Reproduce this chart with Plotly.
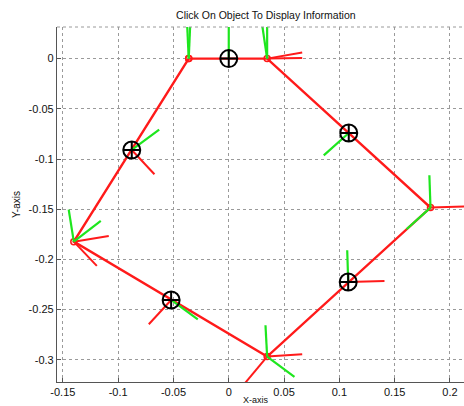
import plotly.graph_objects as go

# Polygon path vertices (closed)
path_x = [-0.0362, 0.0347, 0.1824, 0.0347, -0.1401, -0.0362]
path_y = [0.0, 0.0, -0.1484, -0.2968, -0.1823, 0.0]

# Object centres (circle-cross markers)
obj_x = [0.0, 0.1085, 0.1080, -0.0521, -0.0877]
obj_y = [0.0, -0.0741, -0.2225, -0.2404, -0.0910]

# Red frame-axis segments: start and end
red_x0 = [0.0347, 0.0347, 0.1824, 0.1080, 0.0347, 0.0347, -0.0521, -0.1401, -0.1401, -0.0877]
red_y0 = [0.0, 0.0, -0.1484, -0.2225, -0.2968, -0.2968, -0.2404, -0.1823, -0.1823, -0.0910]
red_x1 = [0.0664, 0.0664, 0.2276, 0.1408, 0.0664, 0.0070, -0.0723, -0.1085, -0.1193, -0.0672]
red_y1 = [0.0060, 0.0006, -0.1467, -0.2215, -0.2945, -0.3334, -0.2646, -0.1767, -0.2064, -0.1152]

# Green frame-axis segments: start and end
green_x0 = [-0.0362, -0.0362, 0.0, 0.0347, 0.0347, 0.1085, 0.1824, 0.1824, 0.1080, 0.0347, 0.0347, -0.0521, -0.1401, -0.1401, -0.0877]
green_y0 = [0.0, 0.0, 0.0, 0.0, 0.0, -0.0741, -0.1484, -0.1484, -0.2225, -0.2968, -0.2968, -0.2404, -0.1823, -0.1823, -0.0910]
green_x1 = [-0.0378, -0.0347, 0.0, 0.0296, 0.0347, 0.0859, 0.1814, 0.1607, 0.1071, 0.0332, 0.0594, -0.0280, -0.1447, -0.1157, -0.0629]
green_y1 = [0.038, 0.038, 0.038, 0.038, 0.038, -0.0963, -0.1162, -0.1700, -0.1909, -0.2656, -0.3169, -0.2597, -0.1504, -0.1616, -0.0707]

x_ticks = [-0.15, -0.1, -0.05, 0, 0.05, 0.1, 0.15, 0.2]
x_labels = ["-0.15", "-0.1", "-0.05", "0", "0.05", "0.1", "0.15", "0.2"]
y_ticks = [0, -0.05, -0.1, -0.15, -0.2, -0.25, -0.3]
y_labels = ["0", "-0.05", "-0.1", "-0.15", "-0.2", "-0.25", "-0.3"]


def seg_lists(x0, y0, x1, y1):
    xs, ys = [], []
    for a, b, c, d in zip(x0, y0, x1, y1):
        xs += [a, c, None]
        ys += [b, d, None]
    return xs, ys


fig = go.Figure()
fig.add_trace(go.Scatter(x=path_x, y=path_y, mode="lines+markers",
                         line=dict(color="#ff1a1a", width=2.4),
                         marker=dict(symbol="circle-open", size=6, color="#ff1a1a", line=dict(width=1.5)),
                         hoverinfo="skip"))
rx, ry = seg_lists(red_x0, red_y0, red_x1, red_y1)
fig.add_trace(go.Scatter(x=rx, y=ry, mode="lines", line=dict(color="#ff1a1a", width=2), hoverinfo="skip"))
gx, gy = seg_lists(green_x0, green_y0, green_x1, green_y1)
fig.add_trace(go.Scatter(x=gx, y=gy, mode="lines", line=dict(color="#1ee61e", width=2.2), hoverinfo="skip"))
fig.add_trace(go.Scatter(x=obj_x, y=obj_y, mode="markers",
                         marker=dict(symbol="circle-cross-open", size=17, color="black",
                                     line=dict(width=2, color="black")),
                         cliponaxis=False))

fam = "Liberation Sans, Arial, sans-serif"
font = dict(family=fam, size=11, color="#111")
fig.update_layout(
    width=464, height=406,
    margin=dict(l=56.5, r=0, t=26.7, b=24.3, autoexpand=False),
    paper_bgcolor="white", plot_bgcolor="white",
    showlegend=False,
    font=font,
    title=dict(text="Click On Object To Display Information", x=0.573, xref="container",
               xanchor="center", y=0.963, yref="container", yanchor="middle",
               font=dict(family=fam, size=10.5, color="#111")),
    xaxis=dict(range=[-0.1553, 0.2127], tickvals=x_ticks, ticktext=x_labels,
               showgrid=True, gridcolor="#9a9a9a", griddash="dot", gridwidth=1,
               zeroline=False, showline=True, linecolor="#555", linewidth=1.2,
               ticks="inside", ticklen=4, tickcolor="#555", tickfont=font, automargin=False,
               ticklabelstandoff=0),
    yaxis=dict(range=[-0.3221, 0.0315], tickvals=y_ticks, ticktext=y_labels,
               showgrid=True, gridcolor="#9a9a9a", griddash="dot", gridwidth=1,
               zeroline=False, showline=True, linecolor="#555", linewidth=1.2,
               ticks="inside", ticklen=4, tickcolor="#555", tickfont=font, automargin=False,
               title=dict(text="Y-axis", font=dict(family=fam, size=10, color="#111"),
                          standoff=6)),
    shapes=[dict(type="line", xref="paper", yref="paper", x0=0, x1=1, y0=1, y1=1,
                 line=dict(color="#9a9a9a", width=1, dash="dot"))],
    annotations=[dict(text="X-axis", x=(256 - 56.5) / 407.5, xref="paper", y=-25 / 355, yref="paper",
                      xanchor="center", yanchor="bottom", showarrow=False,
                      font=dict(family=fam, size=9, color="#111"))],
)
fig.write_html("out.html", config={"displayModeBar": False},
               post_script="document.body.style.margin='0';document.body.style.overflow='hidden';")
